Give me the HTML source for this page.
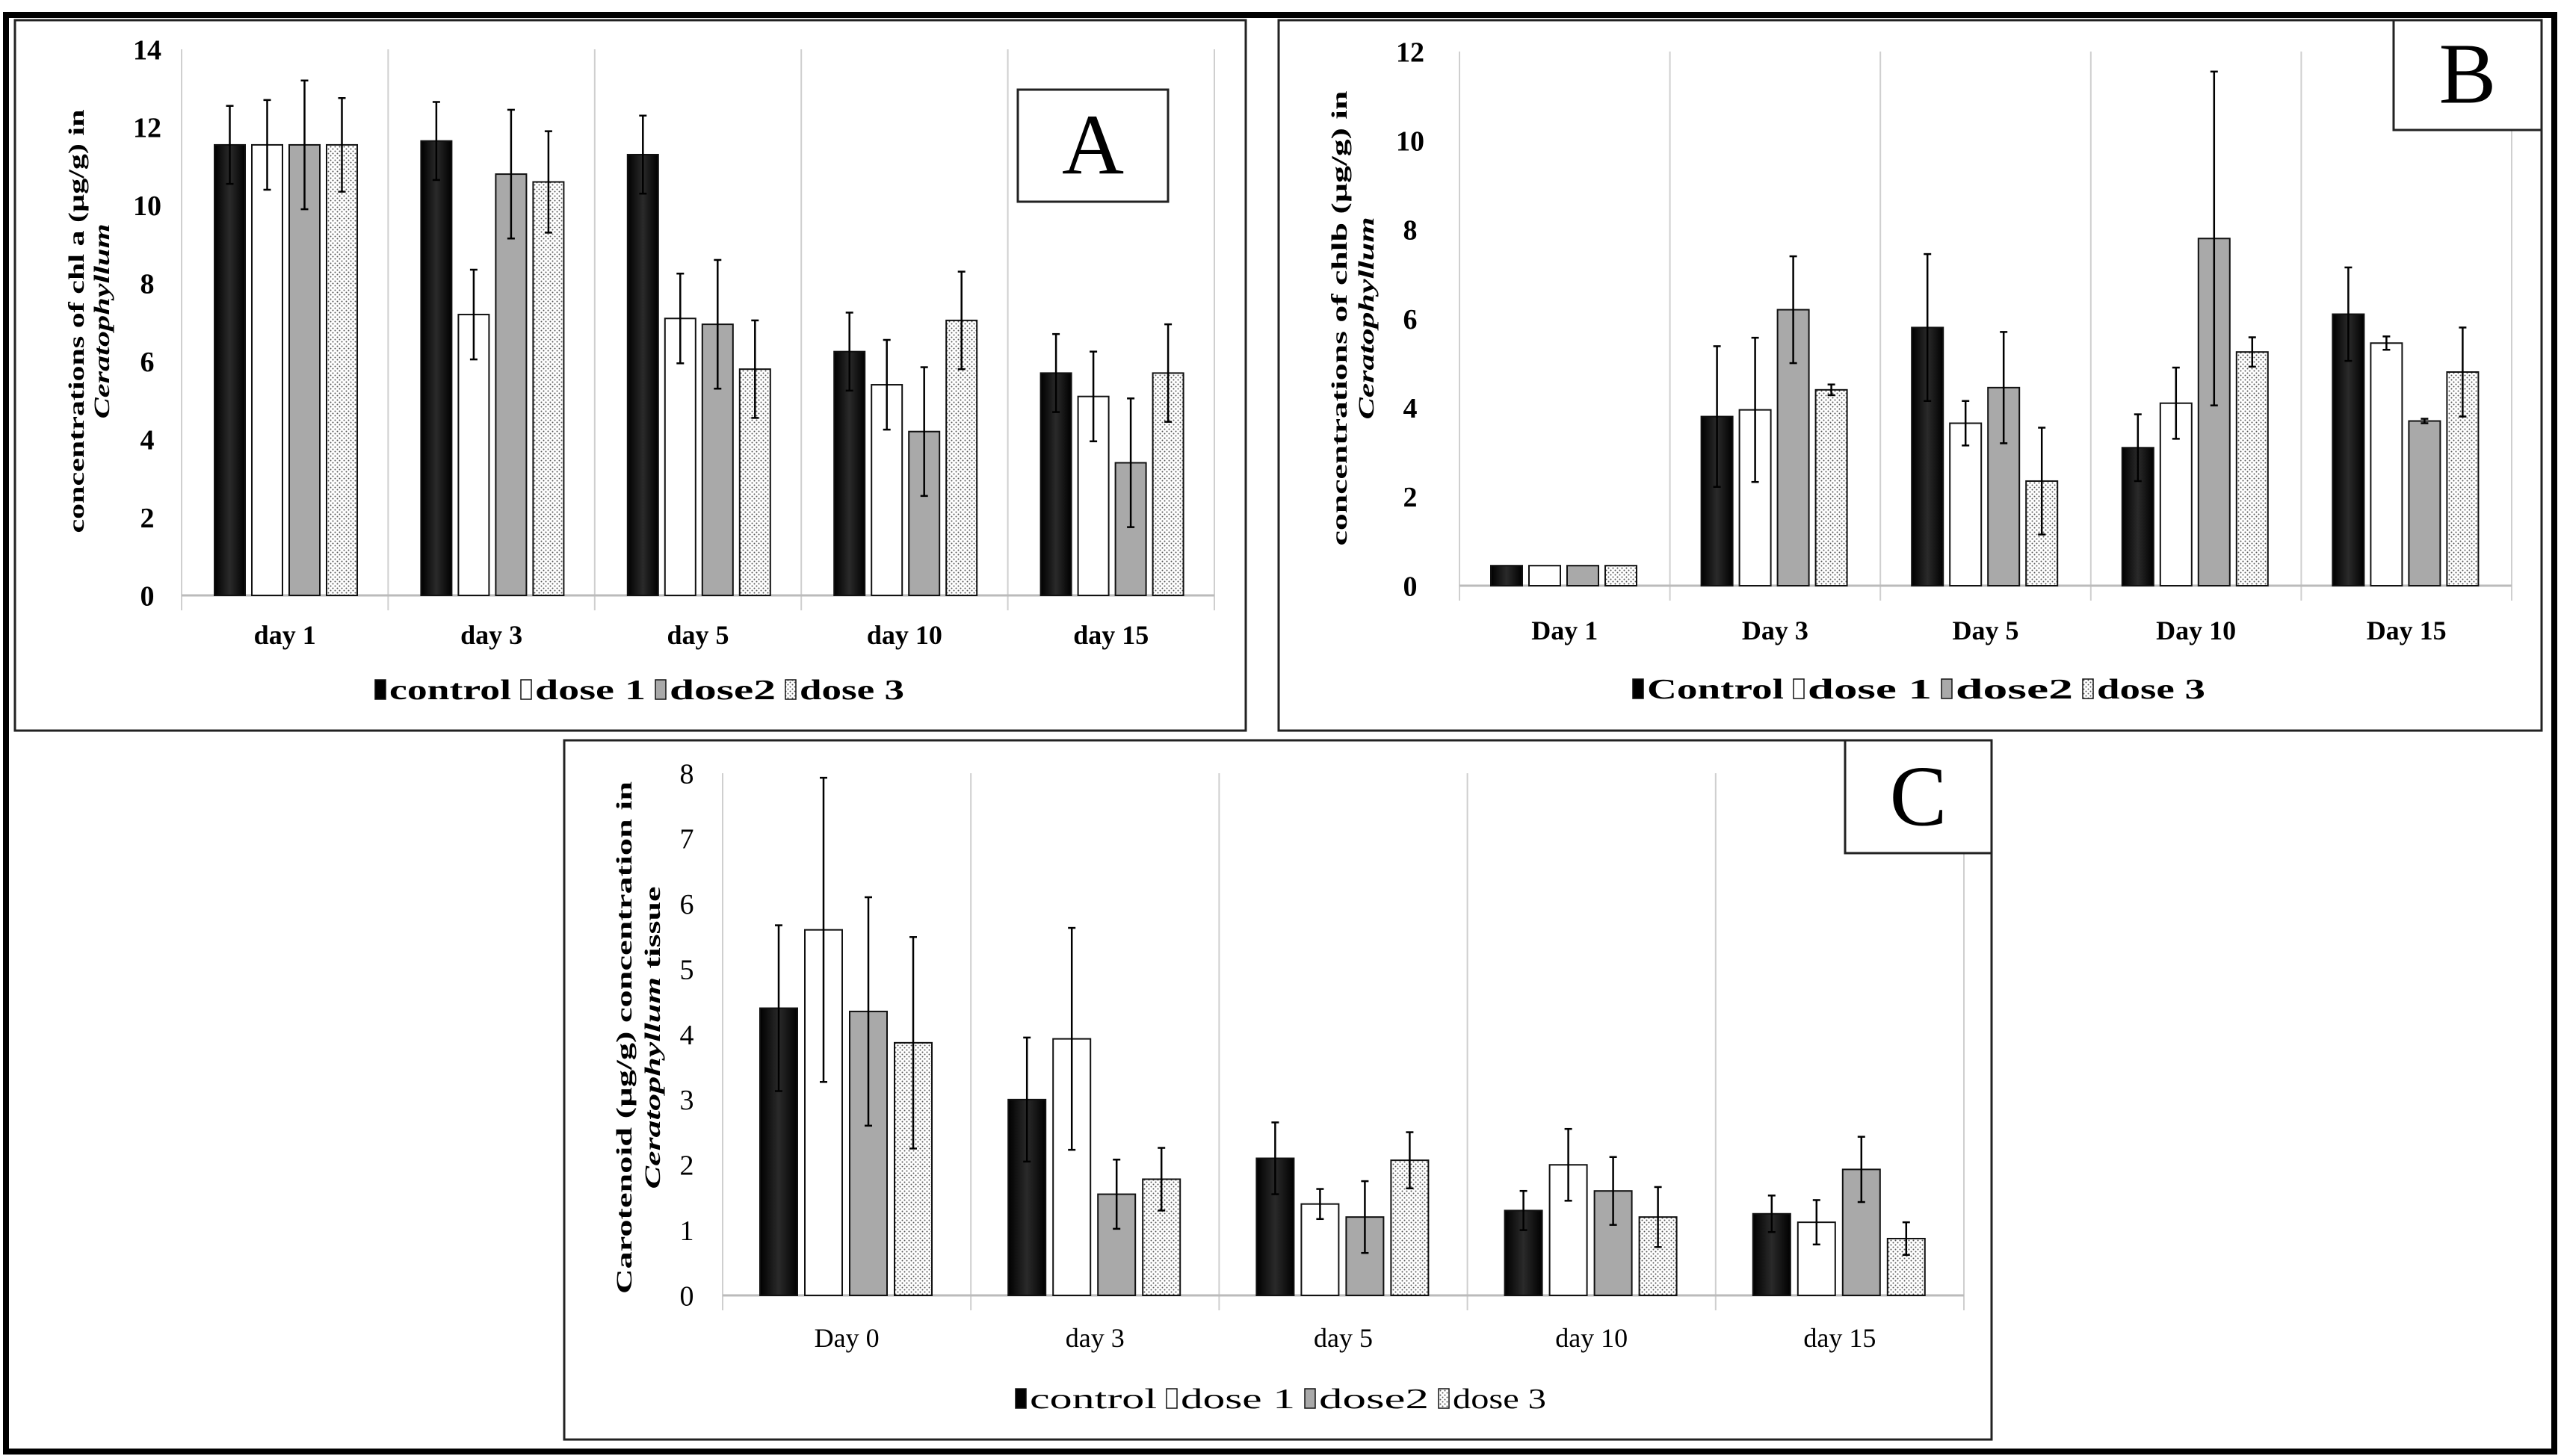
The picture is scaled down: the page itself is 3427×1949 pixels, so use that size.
<!DOCTYPE html>
<html><head><meta charset="utf-8"><style>
html,body{margin:0;padding:0;background:#fff;}
svg{display:block;}
</style></head><body>
<svg id="fig" xmlns="http://www.w3.org/2000/svg" width="3427" height="1949" viewBox="0 0 3427 1949">
<defs>
<pattern id="dots" width="6" height="6" patternUnits="userSpaceOnUse"><rect width="6" height="6" fill="#fff"/><circle cx="1.5" cy="1.5" r="1" fill="#555"/><circle cx="4.5" cy="4.5" r="1" fill="#555"/></pattern>
<linearGradient id="blk" x1="0" x2="1" y1="0" y2="0"><stop offset="0" stop-color="#000"/><stop offset="0.5" stop-color="#2a2a2a"/><stop offset="1" stop-color="#000"/></linearGradient>
</defs>
<rect x="8" y="20" width="3410" height="1923" fill="none" stroke="#000" stroke-width="8"/>
<g id="root"></g>
</svg>
<script>
// Panel A data
const catsA = ["day 1","day 3","day 5","day 10","day 15"];
const ctrlA = [11.55,11.65,11.3,6.25,5.7];
const d1A = [11.55,7.2,7.1,5.4,5.1];
const d2A = [11.55,10.8,6.95,4.2,3.4];
const d3A = [11.55,10.6,5.8,7.05,5.7];
const ctrlAErr = [1.0,1.0,1.0,1.0,1.0];
const d1AErr = [1.15,1.15,1.15,1.15,1.15];
const d2AErr = [1.65,1.65,1.65,1.65,1.65];
const d3AErr = [1.2,1.3,1.25,1.25,1.25];
const ticksA = [0,2,4,6,8,10,12,14];
// Panel B data
const catsB = ["Day 1","Day 3","Day 5","Day 10","Day 15"];
const ctrlB = [0.45,3.8,5.8,3.1,6.1];
const d1B = [0.45,3.95,3.65,4.1,5.45];
const d2B = [0.45,6.2,4.45,7.8,3.7];
const d3B = [0.45,4.4,2.35,5.25,4.8];
const ctrlBErr = [0,1.58,1.65,0.75,1.05];
const d1BErr = [0,1.62,0.5,0.8,0.15];
const d2BErr = [0,1.2,1.25,3.75,0.05];
const d3BErr = [0,0.12,1.2,0.33,1.0];
const ticksB = [0,2,4,6,8,10,12];
// Panel C data
const catsC = ["Day 0","day 3","day 5","day 10","day 15"];
const ctrlC = [4.4,3.0,2.1,1.3,1.25];
const d1C = [5.6,3.93,1.4,2.0,1.12];
const d2C = [4.35,1.55,1.2,1.6,1.93];
const d3C = [3.87,1.78,2.07,1.2,0.87];
const ctrlCErr = [1.27,0.95,0.55,0.3,0.28];
const d1CErr = [2.33,1.7,0.23,0.55,0.34];
const d2CErr = [1.75,0.53,0.55,0.52,0.5];
const d3CErr = [1.62,0.48,0.43,0.46,0.25];
const ticksC = [0,1,2,3,4,5,6,7,8];

const NS = "http://www.w3.org/2000/svg";
const root = document.getElementById("root");
function mk(tag, attrs, parent, txt){
  const e = document.createElementNS(NS, tag);
  for (const k in attrs) e.setAttribute(k, attrs[k]);
  if (txt !== undefined) e.textContent = txt;
  (parent||root).appendChild(e);
  return e;
}
const fills = ["url(#blk)","#fff","#a9a9a9","url(#dots)"];
const serNames = ["control","dose-1","dose-2","dose-3"];
const FONT = "Liberation Sans Narrow, Liberation Serif, serif";

function panel(cfg){
  const g = mk("g", {});
  
  
  const fr = mk("rect", {x:cfg.box[0], y:cfg.box[1], width:cfg.box[2]-cfg.box[0], height:cfg.box[3]-cfg.box[1], fill:"#fff", stroke:"#222", "stroke-width":3}, g);
  
  
  const y = v => cfg.y0 - (v/cfg.ymax)*(cfg.y0-cfg.yTop);
  const cw = (cfg.x1-cfg.x0)/cfg.cats.length;
  for (let i=0;i<=cfg.cats.length;i++){
    const sx = cfg.x0 + i*cw;
    const l = mk("line", {x1:sx, x2:sx, y1:cfg.yTop, y2:cfg.y0+20, stroke:"#cfcfcf", "stroke-width":2}, g);
    
    
  }
  const base = mk("line", {x1:cfg.x0, x2:cfg.x1, y1:cfg.y0, y2:cfg.y0, stroke:"#bbb", "stroke-width":3}, g);
  
  
  cfg.ticks.forEach(t=>{
    const tl = mk("text", {x:cfg.tickX, y:y(t)+cfg.tickFs*0.35, "text-anchor":"middle", "font-family":FONT, "font-weight":cfg.bold?"bold":"normal", "font-size":cfg.tickFs}, g, String(t));
    
    
  });
  cfg.cats.forEach((c,i)=>{
    const gx = cfg.x0 + i*cw + cfg.off;
    cfg.series.forEach((s,k)=>{
      const bx = gx + k*cfg.step;
      const v = s[i], top = y(v);
      const r = mk("rect", {x:bx, y:top, width:cfg.bw, height:cfg.y0-top, fill:fills[k], stroke:"#111", "stroke-width":2}, g);
      
      
      const e = cfg.errs[k][i];
      if (e>0){
        const cx = bx + cfg.bw/2;
        const eg = mk("g", {stroke:"#000", "stroke-width":2.5}, g);
        
        
        mk("line", {x1:cx, x2:cx, y1:y(v+e), y2:y(v-e)}, eg);
        mk("line", {x1:cx-5, x2:cx+5, y1:y(v+e), y2:y(v+e)}, eg);
        mk("line", {x1:cx-5, x2:cx+5, y1:y(v-e), y2:y(v-e)}, eg);
      }
    });
    const xl = mk("text", {x:cfg.x0+(i+0.5)*cw, y:cfg.xLabY, "text-anchor":"middle", "font-family":FONT, "font-weight":cfg.bold?"bold":"normal", "font-size":cfg.xFs}, g, c);
    
    
  });
  const tg = mk("g", {"font-family":"Liberation Serif, serif", "font-weight":"bold", "font-size":cfg.titleFs}, g);
  
  
  mk("text", {x:0, y:0, "text-anchor":"middle", textLength:cfg.t1Len, lengthAdjust:"spacingAndGlyphs", transform:`translate(${cfg.t1X},${cfg.tY}) rotate(-90)`}, tg, cfg.t1);
  const t2 = mk("text", {x:0, y:0, "text-anchor":"middle", "font-style":"italic", textLength:cfg.t2Len, lengthAdjust:"spacingAndGlyphs", transform:`translate(${cfg.t2X},${cfg.tY2}) rotate(-90)`}, tg);
  mk("tspan", {}, t2, cfg.t2);
  if (cfg.t2b){ mk("tspan", {"font-style":"normal"}, t2, cfg.t2b); }
  const lg = mk("g", {}, g);
  
  
  cfg.legX.forEach((lx,k)=>{
    const le = mk("g", {}, lg);
    
    
    mk("rect", {x:lx, y:cfg.legY-26, width:14, height:26, fill:k==0?"#000":fills[k], stroke:"#111", "stroke-width":1.5}, le);
    const w = k<3 ? cfg.legX[k+1]-lx-32 : cfg.legLast;
    mk("text", {x:lx+19, y:cfg.legY, "font-family":FONT, "font-weight":cfg.bold?"bold":"normal", "font-size":cfg.legFs, textLength:w, lengthAdjust:"spacingAndGlyphs"}, le, cfg.legNames[k]);
  });
  const lb = mk("g", {}, g);
  
  
  mk("rect", {x:cfg.lb[0], y:cfg.lb[1], width:cfg.lb[2]-cfg.lb[0], height:cfg.lb[3]-cfg.lb[1], fill:"#fff", stroke:"#222", "stroke-width":3}, lb);
  mk("text", {x:(cfg.lb[0]+cfg.lb[2])/2, y:cfg.lb[3]-(cfg.lb[3]-cfg.lb[1])*0.25, "text-anchor":"middle", "font-family":"Liberation Serif, serif", "font-size":cfg.lbFs}, lb, cfg.letter);
}

panel({name:"panel-a-chl-a", box:[20,27,1667,978], x0:243, x1:1625, y0:797, yTop:66, ymax:14,
  cats:catsA, series:[ctrlA,d1A,d2A,d3A], errs:[ctrlAErr,d1AErr,d2AErr,d3AErr], ticks:ticksA,
  off:44, bw:41, step:50, tickX:197, tickFs:38, bold:true, xLabY:862, xFs:36,
  t1:"concentrations of chl a (µg/g) in", t1X:112, t1Len:567, tY:430, t2:"Ceratophyllum", t2X:146, t2Len:261, tY2:430, titleFs:30,
  legX:[502,697,877,1051], legY:936, legFs:38, legNames:["control","dose 1","dose2","dose 3"], legLast:140,
  lb:[1362,120,1563,270], lbFs:115, letter:"A"});

panel({name:"panel-b-chl-b", box:[1711,27,3401,978], x0:1953, x1:3361, y0:784, yTop:69, ymax:12,
  cats:catsB, series:[ctrlB,d1B,d2B,d3B], errs:[ctrlBErr,d1BErr,d2BErr,d3BErr], ticks:ticksB,
  off:42, bw:42, step:51, tickX:1887, tickFs:38, bold:true, xLabY:856, xFs:36,
  t1:"concentrations of chlb (µg/g) in", t1X:1802, t1Len:609, tY:426, t2:"Ceratophyllum", t2X:1838, t2Len:271, tY2:426, titleFs:30,
  legX:[2185,2400,2598,2787], legY:935, legFs:38, legNames:["Control","dose 1","dose2","dose 3"], legLast:145,
  lb:[3203,27,3401,174], lbFs:115, letter:"B"});

panel({name:"panel-c-carotenoid", box:[755,991,2665,1927], x0:967, x1:2628, y0:1734, yTop:1035, ymax:8,
  cats:catsC, series:[ctrlC,d1C,d2C,d3C], errs:[ctrlCErr,d1CErr,d2CErr,d3CErr], ticks:ticksC,
  off:50, bw:50, step:60, tickX:919, tickFs:38, bold:false, xLabY:1803, xFs:36,
  t1:"Carotenoid (µg/g) concentration in", t1X:845, t1Len:686, tY:1389, t2:"Ceratophyllum", t2b:" tissue", t2X:883, t2Len:405, tY2:1389, titleFs:30,
  legX:[1359,1561,1746,1925], legY:1885, legFs:38, legNames:["control","dose 1","dose2","dose 3"], legLast:125,
  lb:[2469,991,2665,1142], lbFs:115, letter:"C"});
</script>
</body></html>
